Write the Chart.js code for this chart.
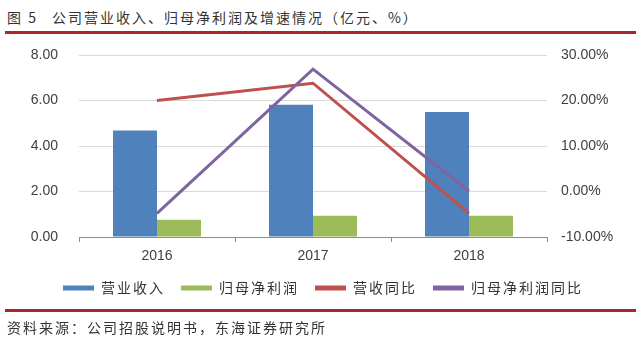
<!DOCTYPE html>
<html>
<head>
<meta charset="utf-8">
<script src="https://cdn.jsdelivr.net/npm/chart.js@4.4.1/dist/chart.umd.min.js"></script>
<style>
  html, body { margin: 0; padding: 0; background: #fff; }
  #wrap { position: relative; width: 640px; height: 346px; overflow: hidden; background: #fff; }
  #c { position: absolute; left: 0; top: 0; }
  .cap {
    position: absolute; left: 7px;
    font-family: "Noto Sans CJK SC", sans-serif; font-size: 14px; letter-spacing: 2px;
    color: #333; white-space: nowrap; line-height: 16px;
  }
  .rule { position: absolute; left: 5px; width: 631px; height: 3px; background: #a8272d; }
</style>
</head>
<body>
<div id="wrap">
  <div class="cap" style="top:9px"><span>图 5</span><span style="margin-left:14px">公司营业收入、归母净利润及增速情况（亿元、%）</span></div>
  <div class="rule" style="top:31px"></div>
  <canvas id="c" width="640" height="346"></canvas>
  <div class="rule" style="top:309px"></div>
  <div class="cap" style="top:319px">资料来源：公司招股说明书，东海证券研究所</div>
</div>
<script>
// Yearly figures: revenue and net profit attributable to parent (亿元), growth rates (%)
const years = ['2016', '2017', '2018'];
const revenue = [4.68, 5.81, 5.49];
const netProfit = [0.76, 0.93, 0.93];
const revenueYoY = [20.0, 23.8, -4.8];
const netProfitYoY = [-4.8, 26.9, 0.1];

// Axis tick values
const leftTicks = [0, 2, 4, 6, 8];
const rightTicks = [-10, 0, 10, 20, 30];

const seriesNames = ['营业收入', '归母净利润', '营收同比', '归母净利润同比'];
const palette = ['#4f81bd', '#9bbb59', '#c0504d', '#7f64a2'];

const tickFont = { family: '"Liberation Sans", Arial, sans-serif', size: 14 };
const tickColor = '#404040';

const chart = new Chart(document.getElementById('c'), {
  data: {
    labels: years,
    datasets: [
      { type: 'bar', label: seriesNames[0], data: revenue, yAxisID: 'y',
        backgroundColor: palette[0], borderWidth: 0, order: 2,
        categoryPercentage: 0.564, barPercentage: 1 },
      { type: 'bar', label: seriesNames[1], data: netProfit, yAxisID: 'y',
        backgroundColor: palette[1], borderWidth: 0, order: 3,
        categoryPercentage: 0.564, barPercentage: 1 },
      { type: 'line', label: seriesNames[2], data: revenueYoY, yAxisID: 'y1',
        borderColor: palette[2], backgroundColor: palette[2], borderWidth: 3,
        pointRadius: 0, tension: 0, order: 1 },
      { type: 'line', label: seriesNames[3], data: netProfitYoY, yAxisID: 'y1',
        borderColor: palette[3], backgroundColor: palette[3], borderWidth: 3,
        pointRadius: 0, tension: 0, order: 0 }
    ]
  },
  options: {
    responsive: false,
    animation: false,
    devicePixelRatio: 1,
    layout: { padding: { top: 55, left: 6, right: 0, bottom: 41 } },
    plugins: {
      tooltip: { enabled: false },
      legend: {
        position: 'bottom',
        labels: {
          boxWidth: 31, boxHeight: 5, padding: 16,
          color: '#333',
          font: { family: '"Noto Sans CJK SC", sans-serif', size: 14 },
          generateLabels(ch) {
            return ch.data.datasets.map((ds, i) => ({
              text: ds.label,
              fillStyle: palette[i],
              strokeStyle: palette[i],
              lineWidth: 0,
              hidden: !ch.isDatasetVisible(i),
              datasetIndex: i,
              fontColor: '#333'
            }));
          }
        }
      }
    },
    scales: {
      x: {
        offset: true,
        grid: { offset: true, drawOnChartArea: false, drawTicks: true, tickLength: 5, color: '#8c8c8c', lineWidth: 1 },
        border: { display: true, color: '#8c8c8c', width: 1 },
        ticks: { padding: 6, font: tickFont, color: tickColor, maxRotation: 0 },
        afterFit(s) { s.height = 28; }
      },
      y: {
        position: 'left',
        min: leftTicks[0], max: leftTicks[leftTicks.length - 1],
        grid: { color: '#d9d9d9', lineWidth: 1, drawTicks: false },
        border: { display: false },
        ticks: {
          stepSize: leftTicks[1] - leftTicks[0], padding: 21,
          font: tickFont, color: tickColor,
          callback: v => Number(v).toFixed(2)
        },
        afterFit(s) { s.width = 73; }
      },
      y1: {
        position: 'right',
        min: rightTicks[0], max: rightTicks[rightTicks.length - 1],
        grid: { display: false, drawTicks: false },
        border: { display: false },
        ticks: {
          stepSize: rightTicks[1] - rightTicks[0], padding: 14,
          font: tickFont, color: tickColor,
          callback: v => Number(v).toFixed(2) + '%'
        },
        afterFit(s) { s.width = 93; }
      }
    }
  }
});

// Legend text is set with a little letter spacing, as in the caption lines
const lg = chart.legend;
const baseFit = lg.fit;
const baseDraw = lg.draw;
lg.fit = function () { this.ctx.letterSpacing = '2px'; baseFit.call(this); this.ctx.letterSpacing = '0px'; };
lg.draw = function () { this.ctx.letterSpacing = '2px'; baseDraw.apply(this, arguments); this.ctx.letterSpacing = '0px'; };
chart.update('none');
</script>
</body>
</html>
